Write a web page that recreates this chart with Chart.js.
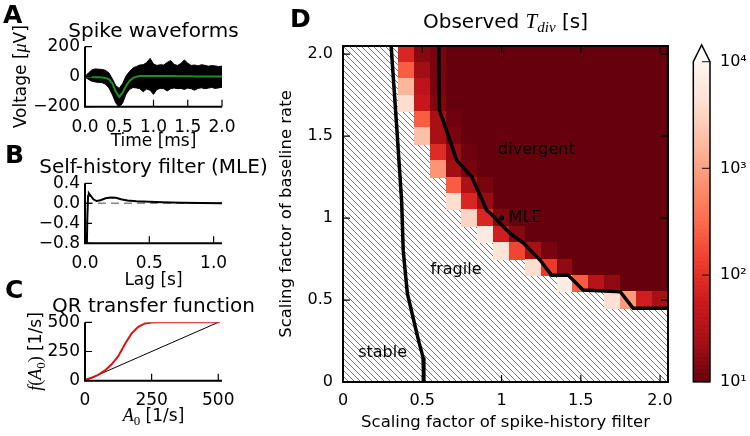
<!DOCTYPE html>
<html>
<head>
<meta charset="utf-8">
<title>Observed divergence times</title>
<script src="https://cdn.jsdelivr.net/npm/chart.js@4.4.1/dist/chart.umd.min.js"></script>
<style>
  body { margin: 0; background: #fff; }
  #fig { position: relative; width: 750px; height: 436px; overflow: hidden; background: #fff; }
  #fig canvas { position: absolute; left: 0; top: 0; }
</style>
</head>
<body>
<div id="fig">
  <canvas id="panelA" width="750" height="436"></canvas>
  <canvas id="panelB" width="750" height="436"></canvas>
  <canvas id="panelC" width="750" height="436"></canvas>
  <canvas id="panelD" width="750" height="436"></canvas>
  <canvas id="colorbar" width="750" height="436"></canvas>
</div>
<script>
// ---- A: spike waveforms (uV), every 0.05 ms ----
const spikeTime = [0, 0.05, 0.1, 0.15, 0.2, 0.25, 0.3, 0.35, 0.4, 0.45,
  0.5, 0.55, 0.6, 0.65, 0.7, 0.75, 0.8, 0.85, 0.9, 0.95,
  1.0, 1.05, 1.1, 1.15, 1.2, 1.25, 1.3, 1.35, 1.4, 1.45,
  1.5, 1.55, 1.6, 1.65, 1.7, 1.75, 1.8, 1.85, 1.9, 1.95, 2.0];
const spikeUpper = [2, 25, 45, 52, 50, 48, 42, 25, -15, -60,
  -78, -45, 5, 35, 58, 68, 78, 80, 95, 122,
  85, 75, 80, 78, 95, 108, 82, 75, 88, 112,
  90, 75, 78, 72, 80, 76, 70, 74, 72, 68, 70];
const spikeLower = [-2, -18, -30, -35, -38, -40, -50, -75, -120, -175,
  -205, -175, -115, -85, -72, -75, -80, -100, -82, -90,
  -118, -85, -78, -80, -95, -80, -75, -80, -78, -85,
  -76, -80, -90, -78, -74, -80, -76, -72, -78, -75, -70];
const spikeMean = [0, 0, -2, -3, -4, -5, -8, -18, -45, -100,
  -135, -105, -60, -28, -10, 0, 4, 5, 5, 5,
  5, 5, 5, 4, 4, 4, 4, 3, 3, 3,
  3, 3, 2, 2, 2, 2, 2, 1, 1, 1, 1];
const timeTicks = [0, 0.5, 1, 1.5, 2];
const timeLabels = ['0.0', '0.5', '1.0', '1.5', '2.0'];
const voltTicks = [-200, 0, 200];
const voltLabels = ['\u2212200', '0', '200'];

// ---- B: self-history filter ----
const lag = [0, 0.012, 0.018, 0.024, 0.03, 0.045, 0.065, 0.09, 0.12, 0.16,
  0.2, 0.24, 0.28, 0.33, 0.4, 0.5, 0.6, 0.75, 0.9, 1.065];
const filterMLE = [-3, -1.2, -0.3, 0.15, 0.2, 0.15, 0.08, 0.045, 0.06, 0.1,
  0.115, 0.11, 0.08, 0.055, 0.04, 0.03, 0.02, 0.01, 0.005, 0];
const zeroLag = [0, 1.065];
const zeroVal = [0, 0];
const lagTicks = [0, 0.5, 1];
const lagLabels = ['0.0', '0.5', '1.0'];
const filtTicks = [-0.8, -0.4, 0, 0.4];
const filtLabels = ['\u22120.8', '\u22120.4', '0.0', '0.4'];

// ---- C: QR transfer function ----
const a0 = [0, 25, 50, 75, 100, 125, 150, 175, 200, 225, 250, 275, 300, 400, 506];
const qrRate = [8, 25, 50, 88, 140, 210, 315, 405, 462, 490, 498, 500, 500, 500, 500];
const diagA0 = [0, 500];
const diagRate = [0, 500];
const qrTicks = [0, 250, 500];
const qrLabels = ['0', '250', '500'];

// ---- D: observed divergence time, log10 T_div [s]; null = no divergence ----
const gridX = [0, 0.1, 0.2, 0.3, 0.4, 0.5, 0.6, 0.7, 0.8, 0.9, 1.0,
  1.1, 1.2, 1.3, 1.4, 1.5, 1.6, 1.7, 1.8, 1.9, 2.0];
const gridY = [2.0, 1.9, 1.8, 1.7, 1.6, 1.5, 1.4, 1.3, 1.2, 1.1, 1.0, 0.9, 0.8, 0.7, 0.6, 0.5];
const _ = null;
const logTdiv = [
  [_, _, _, _, 1.9, 1.2, 1.1, 1, 1, 1, 1, 1, 1, 1, 1, 1, 1, 1, 1, 1, 1],
  [_, _, _, _, 2.4, 1.35, 1.1, 1, 1, 1, 1, 1, 1, 1, 1, 1, 1, 1, 1, 1, 1],
  [_, _, _, _, 3.2, 1.6, 1.1, 1, 1, 1, 1, 1, 1, 1, 1, 1, 1, 1, 1, 1, 1],
  [_, _, _, _, 3.6, 1.7, 1.15, 1, 1, 1, 1, 1, 1, 1, 1, 1, 1, 1, 1, 1, 1],
  [_, _, _, _, _, 2.4, 1.4, 1.05, 1, 1, 1, 1, 1, 1, 1, 1, 1, 1, 1, 1, 1],
  [_, _, _, _, _, 3.3, 1.4, 1.1, 1, 1, 1, 1, 1, 1, 1, 1, 1, 1, 1, 1, 1],
  [_, _, _, _, _, _, 1.95, 1.3, 1.05, 1, 1, 1, 1, 1, 1, 1, 1, 1, 1, 1, 1],
  [_, _, _, _, _, _, 2.9, 1.35, 1.1, 1, 1, 1, 1, 1, 1, 1, 1, 1, 1, 1, 1],
  [_, _, _, _, _, _, _, 2.4, 1.45, 1.1, 1, 1, 1, 1, 1, 1, 1, 1, 1, 1, 1],
  [_, _, _, _, _, _, _, 3.6, 1.9, 1.3, 1, 1, 1, 1, 1, 1, 1, 1, 1, 1, 1],
  [_, _, _, _, _, _, _, _, 3.5, 1.9, 1.15, 1, 1, 1, 1, 1, 1, 1, 1, 1, 1],
  [_, _, _, _, _, _, _, _, _, 3.8, 1.8, 1.2, 1, 1, 1, 1, 1, 1, 1, 1, 1],
  [_, _, _, _, _, _, _, _, _, _, 3.7, 2.2, 1.4, 1.1, 1, 1, 1, 1, 1, 1, 1],
  [_, _, _, _, _, _, _, _, _, _, _, _, 3.6, 2.1, 1.25, 1, 1, 1, 1, 1, 1],
  [_, _, _, _, _, _, _, _, _, _, _, _, _, _, 3.85, 2.4, 1.55, 1.25, 1, 1, 1],
  [_, _, _, _, _, _, _, _, _, _, _, _, _, _, _, _, _, 3.65, 2.95, 1.8, 1.4]
];
// stable / fragile boundary
const stableX = [0.3, 0.34, 0.37, 0.38, 0.406, 0.45, 0.48, 0.505, 0.51, 0.51];
const stableY = [2.1, 1.54, 1.1, 0.8, 0.54, 0.36, 0.24, 0.15, 0.05, -0.05];
// fragile / divergent boundary
const divergX = [0.605, 0.608, 0.717, 0.812, 0.906, 0.93, 1.054, 1.14, 1.243, 1.315,
  1.42, 1.514, 1.75, 1.83, 2.1];
const divergY = [2.1, 1.66, 1.354, 1.252, 1.049, 1.03, 0.907, 0.846, 0.744, 0.652,
  0.652, 0.561, 0.55, 0.45, 0.45];
const mleX = [1.0];
const mleY = [1.0];
const dTicks = [0, 0.5, 1, 1.5, 2];
const dLabels = ['0', '0.5', '1', '1.5', '2.0'];
const cbTicks = [10, 100, 1000, 10000];
const cbLabels = ['10\u00b9', '10\u00b2', '10\u00b3', '10\u2074'];

// ---------------------------------------------------------------
const SANS = '"DejaVu Sans"';
const SERIF = '"Liberation Serif"';
Chart.defaults.font.family = SANS;
Chart.defaults.color = '#000';
Chart.defaults.animation = false;
Chart.defaults.responsive = false;
Chart.defaults.plugins.legend.display = false;
Chart.defaults.plugins.tooltip.enabled = false;
Chart.defaults.elements.point.radius = 0;
Chart.defaults.elements.line.tension = 0;

const pts = (xs, ys) => xs.map((x, i) => ({x: x, y: ys[i]}));

// Reds colour map, reversed (dark = short divergence time)
const REDS = ['#fff5f0', '#fee0d2', '#fcbba1', '#fc9272', '#fb6a4a', '#ef3b2c', '#cb181d', '#a50f15', '#67000d'];
function hex(c) { return [1, 3, 5].map(k => parseInt(c.slice(k, k + 2), 16)); }
function cmap(L) {
  if (L > 4) return '#ffffff';
  const c = Math.min(1, Math.max(0, 1 - (L - 1) / 3)) * 8;
  const i = Math.min(7, Math.floor(c)), f = c - i;
  const p = hex(REDS[i]), q = hex(REDS[i + 1]);
  return 'rgb(' + p.map((v, k) => Math.round(v + (q[k] - v) * f)).join(',') + ')';
}

function scale(o) {
  return {
    type: o.type || 'linear',
    position: o.pos,
    min: o.min,
    max: o.max,
    grid: {display: false, drawTicks: false},
    border: {display: false},
    afterBuildTicks: s => { s.ticks = o.ticks.map(v => ({value: v})); },
    afterFit: s => { if (o.pos === 'bottom') s.height = o.fit; else s.width = o.fit; },
    ticks: {font: {size: o.fs}, padding: o.pad, maxRotation: 0, autoSkip: false,
      callback: (v, i) => o.labels[i]},
    title: o.title ? {display: true, text: o.title, font: {size: o.tfs}, padding: o.tpad} : {display: false}
  };
}

// text made of runs in different fonts, centred on (cx, cy)
function drawRuns(ctx, runs, cx, cy, rot) {
  ctx.save();
  ctx.translate(cx, cy);
  if (rot) ctx.rotate(rot);
  ctx.textAlign = 'left';
  ctx.textBaseline = 'alphabetic';
  ctx.fillStyle = '#000';
  let w = 0;
  runs.forEach(r => { ctx.font = r.f; w += ctx.measureText(r.t).width; });
  let x = -w / 2;
  runs.forEach(r => { ctx.font = r.f; ctx.fillText(r.t, x, 6 + (r.dy || 0)); x += ctx.measureText(r.t).width; });
  ctx.restore();
}

function letter(ctx, t, x, y) {
  ctx.save();
  ctx.font = 'bold 25px ' + SANS;
  ctx.fillStyle = '#000';
  ctx.textAlign = 'left';
  ctx.textBaseline = 'alphabetic';
  ctx.fillText(t, x, y);
  ctx.restore();
}

function panelTitle(chart, runs, lift) {
  const a = chart.chartArea;
  drawRuns(chart.ctx, runs, (a.left + a.right) / 2, a.top - lift);
}

// matplotlib-like spines and inward ticks
function deco(cfg) {
  return {
    id: 'deco',
    beforeDatasetsDraw(chart) { if (cfg.under) cfg.under(chart); },
    afterDatasetsDraw(chart) {
      const ctx = chart.ctx, a = chart.chartArea, xs = chart.scales.x, ys = chart.scales.y;
      ctx.save();
      ctx.strokeStyle = '#000';
      ctx.lineWidth = 1.2;
      ctx.beginPath();
      xs.ticks.forEach(t => {
        const p = xs.getPixelForValue(t.value);
        ctx.moveTo(p, a.bottom); ctx.lineTo(p, a.bottom - cfg.len);
        if (cfg.box) { ctx.moveTo(p, a.top); ctx.lineTo(p, a.top + cfg.len); }
      });
      ys.ticks.forEach(t => {
        const p = ys.getPixelForValue(t.value);
        ctx.moveTo(a.left, p); ctx.lineTo(a.left + cfg.len, p);
        if (cfg.box) { ctx.moveTo(a.right, p); ctx.lineTo(a.right - cfg.len, p); }
      });
      ctx.stroke();
      ctx.lineWidth = 2;
      ctx.beginPath();
      if (cfg.box) {
        ctx.rect(a.left, a.top, a.right - a.left, a.bottom - a.top);
      } else {
        ctx.moveTo(a.left, a.top); ctx.lineTo(a.left, a.bottom); ctx.lineTo(a.right, a.bottom);
      }
      ctx.stroke();
      ctx.restore();
      if (cfg.over) cfg.over(chart);
    }
  };
}

const F17 = '17px ' + SANS;
const MI = 'italic 18px ' + SERIF;
const MR = '18px ' + SERIF;
const SUB = '13px ' + SERIF;
const TITLE = '20px ' + SANS;

// ---- panel A ----
new Chart(document.getElementById('panelA'), {
  type: 'line',
  data: {datasets: [
    {data: pts(spikeTime, spikeMean), borderColor: '#1f8f1f', borderWidth: 2, order: 0},
    {data: pts(spikeTime, spikeUpper), borderColor: '#000', borderWidth: 1, backgroundColor: '#000', fill: '+1', order: 1},
    {data: pts(spikeTime, spikeLower), borderColor: '#000', borderWidth: 1, order: 2}
  ]},
  options: {
    layout: {padding: {left: 0, top: 46.7, right: 528, bottom: 284.3}},
    scales: {
      x: scale({pos: 'bottom', min: 0, max: 2, ticks: timeTicks, labels: timeLabels, fs: 17, pad: 11, fit: 45,
        title: 'Time [ms]', tfs: 17, tpad: {top: 0, bottom: 0}}),
      y: scale({pos: 'left', min: -200, max: 200, ticks: voltTicks, labels: voltLabels, fs: 17, pad: 5, fit: 85})
    }
  },
  plugins: [deco({len: 7, over: chart => {
    const a = chart.chartArea;
    panelTitle(chart, [{t: 'Spike waveforms', f: TITLE}], 16);
    letter(chart.ctx, 'A', 3, 23);
    drawRuns(chart.ctx, [{t: 'Voltage [', f: F17}, {t: '\u03bc', f: MI}, {t: 'V]', f: F17}],
      20, (a.top + a.bottom) / 2, -Math.PI / 2);
  }})]
});

// ---- panel B ----
new Chart(document.getElementById('panelB'), {
  type: 'line',
  data: {datasets: [
    {data: pts(lag, filterMLE), borderColor: '#000', borderWidth: 2, order: 0},
    {data: pts(zeroLag, zeroVal), borderColor: '#888', borderWidth: 1.5, borderDash: [8, 5], order: 1}
  ]},
  options: {
    layout: {padding: {left: 0, top: 183.3, right: 528, bottom: 144.8}},
    scales: {
      x: scale({pos: 'bottom', min: 0, max: 1.065, ticks: lagTicks, labels: lagLabels, fs: 17, pad: 10, fit: 47.9,
        title: 'Lag [s]', tfs: 17, tpad: {top: 0, bottom: 0}}),
      y: scale({pos: 'left', min: -0.8, max: 0.4, ticks: filtTicks, labels: filtLabels, fs: 17, pad: 5, fit: 85})
    }
  },
  plugins: [deco({len: 7, over: chart => {
    panelTitle(chart, [{t: 'Self-history filter (MLE)', f: TITLE}], 16);
    letter(chart.ctx, 'B', 5, 163);
  }})]
});

// ---- panel C ----
new Chart(document.getElementById('panelC'), {
  type: 'line',
  data: {datasets: [
    {data: pts(a0, qrRate), borderColor: '#e01010', borderWidth: 2, order: 0},
    {data: pts(diagA0, diagRate), borderColor: '#000', borderWidth: 1, order: 1}
  ]},
  options: {
    layout: {padding: {left: 0, top: 322.3, right: 528, bottom: 15.3}},
    scales: {
      x: scale({pos: 'bottom', min: 0, max: 514, ticks: qrTicks, labels: qrLabels, fs: 17, pad: 9.5, fit: 40}),
      y: scale({pos: 'left', min: 0, max: 500, ticks: qrTicks, labels: qrLabels, fs: 17, pad: 5, fit: 85})
    }
  },
  plugins: [deco({len: 7, over: chart => {
    const a = chart.chartArea, ctx = chart.ctx;
    panelTitle(chart, [{t: 'QR transfer function', f: TITLE}], 16);
    letter(ctx, 'C', 5, 298);
    drawRuns(ctx, [{t: 'f', f: MI}, {t: '(', f: MR}, {t: 'A', f: MI}, {t: '0', f: SUB, dy: 4},
      {t: ')', f: MR}, {t: ' [1/s]', f: F17}], 35, (a.top + a.bottom) / 2, -Math.PI / 2);
    drawRuns(ctx, [{t: 'A', f: MI}, {t: '0', f: SUB, dy: 4}, {t: ' [1/s]', f: F17}],
      (a.left + a.right) / 2, 415);
  }})]
});

// ---- panel D ----
new Chart(document.getElementById('panelD'), {
  type: 'line',
  data: {datasets: [
    {data: pts(stableX, stableY), borderColor: '#000', borderWidth: 3.5},
    {data: pts(divergX, divergY), borderColor: '#000', borderWidth: 3.5},
    {data: pts(mleX, mleY), showLine: false, pointRadius: 2.5, pointBackgroundColor: '#000', pointBorderWidth: 0}
  ]},
  options: {
    layout: {padding: {left: 270, top: 46, right: 82, bottom: 0}},
    scales: {
      x: scale({pos: 'bottom', min: 0, max: 2.05, ticks: dTicks, labels: dLabels, fs: 16, pad: 9, fit: 54,
        title: 'Scaling factor of spike-history filter', tfs: 16.5, tpad: {top: 0, bottom: 3}}),
      y: scale({pos: 'left', min: 0, max: 2.05, ticks: dTicks, labels: dLabels, fs: 16, pad: 10, fit: 73,
        title: 'Scaling factor of baseline rate', tfs: 16.5, tpad: {top: 7, bottom: 0}})
    }
  },
  plugins: [deco({len: 7, box: true,
    under: chart => {
      const ctx = chart.ctx, a = chart.chartArea, xs = chart.scales.x, ys = chart.scales.y;
      const h = a.bottom - a.top;
      ctx.save();
      ctx.beginPath();
      ctx.rect(a.left, a.top, a.right - a.left, h);
      ctx.clip();
      // hatch '\\' over the whole plane
      ctx.strokeStyle = 'rgba(0,0,0,0.6)';
      ctx.lineWidth = 0.9;
      ctx.beginPath();
      for (let x0 = a.left - h; x0 < a.right; x0 += 6) { ctx.moveTo(x0, a.top); ctx.lineTo(x0 + h, a.bottom); }
      ctx.stroke();
      const hw = (gridX[1] - gridX[0]) / 2;
      logTdiv.forEach((row, j) => row.forEach((L, i) => {
        if (L === null) return;
        const x0 = Math.floor(xs.getPixelForValue(gridX[i] - hw));
        const x1 = Math.ceil(xs.getPixelForValue(gridX[i] + hw));
        const y0 = Math.floor(ys.getPixelForValue(gridY[j] + hw));
        const y1 = Math.ceil(ys.getPixelForValue(gridY[j] - hw));
        ctx.fillStyle = cmap(L);
        ctx.fillRect(x0, y0, x1 - x0, y1 - y0);
      }));
      ctx.restore();
    },
    over: chart => {
      const ctx = chart.ctx, xs = chart.scales.x, ys = chart.scales.y;
      panelTitle(chart, [{t: 'Observed ', f: TITLE}, {t: 'T', f: 'italic 21px ' + SERIF},
        {t: 'div', f: 'italic 15px ' + SERIF, dy: 4}, {t: ' [s]', f: TITLE}], 24);
      letter(ctx, 'D', 290, 27);
      ctx.save();
      ctx.font = '16px ' + SANS;
      ctx.fillStyle = '#000';
      ctx.textBaseline = 'middle';
      ctx.textAlign = 'center';
      ctx.fillText('divergent', xs.getPixelForValue(1.22), ys.getPixelForValue(1.415));
      ctx.fillText('fragile', xs.getPixelForValue(0.713), ys.getPixelForValue(0.683));
      ctx.fillText('stable', xs.getPixelForValue(0.25), ys.getPixelForValue(0.177));
      ctx.textAlign = 'left';
      ctx.fillText('MLE', xs.getPixelForValue(1.045), ys.getPixelForValue(1.0));
      ctx.restore();
    }
  })]
});

// ---- colour bar ----
new Chart(document.getElementById('colorbar'), {
  type: 'line',
  data: {datasets: []},
  options: {
    layout: {padding: {left: 693.3, top: 61.7, right: 0, bottom: 54.3}},
    scales: {
      x: {type: 'linear', display: false, min: 0, max: 1},
      y: scale({type: 'logarithmic', pos: 'right', min: 10, max: 10000, ticks: cbTicks, labels: cbLabels, fs: 16, pad: 10, fit: 40})
    }
  },
  plugins: [{
    id: 'bar',
    afterDraw(chart) {
      const ctx = chart.ctx, a = chart.chartArea, ys = chart.scales.y;
      const steps = 240;
      ctx.save();
      for (let k = 0; k < steps; k++) {
        const L0 = 1 + 3 * k / steps, L1 = 1 + 3 * (k + 1) / steps;
        const p0 = ys.getPixelForValue(Math.pow(10, L0)), p1 = ys.getPixelForValue(Math.pow(10, L1));
        ctx.fillStyle = cmap((L0 + L1) / 2);
        ctx.fillRect(a.left, p1, a.right - a.left, p0 - p1 + 0.6);
      }
      const tip = a.top - (a.right - a.left);
      ctx.beginPath();
      ctx.moveTo(a.left, a.bottom);
      ctx.lineTo(a.left, a.top);
      ctx.lineTo((a.left + a.right) / 2, tip);
      ctx.lineTo(a.right, a.top);
      ctx.lineTo(a.right, a.bottom);
      ctx.closePath();
      ctx.strokeStyle = '#000';
      ctx.lineWidth = 1.5;
      ctx.stroke();
      ctx.beginPath();
      ctx.lineWidth = 1.2;
      ys.ticks.forEach(t => {
        const p = ys.getPixelForValue(t.value);
        ctx.moveTo(a.right, p); ctx.lineTo(a.right - 8, p);
      });
      ctx.strokeStyle = 'rgba(0,0,0,0.75)';
      ctx.stroke();
      ctx.restore();
    }
  }]
});
</script>
</body>
</html>
